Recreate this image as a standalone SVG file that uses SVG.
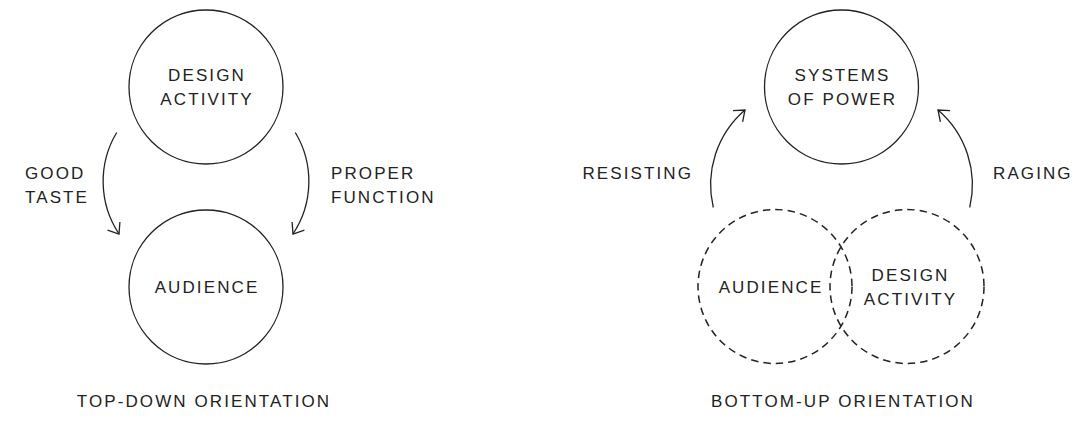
<svg xmlns="http://www.w3.org/2000/svg" width="1090" height="435" viewBox="0 0 1090 435">
<style>
.n{fill:none;stroke:#222;stroke-width:1.3}
.d{fill:none;stroke:#222;stroke-width:1.5;stroke-dasharray:7.5 5}
.c{fill:none;stroke:#222;stroke-width:1.3}
text{font-family:"Liberation Sans",Arial,sans-serif;font-size:17px;fill:#222;letter-spacing:2.1px}
.m{text-anchor:middle}
.e{text-anchor:end}
</style>
<defs>
<marker id="ah" markerUnits="userSpaceOnUse" markerWidth="20" markerHeight="20" refX="0" refY="0" viewBox="-14 -10 16 20" orient="auto" overflow="visible">
<path d="M-9.5,-7.4 L0,0 L-9.5,7.4" fill="none" stroke="#222" stroke-width="1.3"/>
</marker>
</defs>
<rect width="1090" height="435" fill="#fff"/>
<g id="design-activity-top">
<circle class="n" cx="206" cy="87" r="77"/>
<text class="m" x="207" y="81">DESIGN</text>
<text class="m" x="207" y="105">ACTIVITY</text>
</g>
<g id="audience-top">
<circle class="n" cx="206" cy="287" r="77"/>
<text class="m" x="207" y="293">AUDIENCE</text>
</g>
<g id="systems-of-power">
<circle class="n" cx="841.5" cy="87" r="77"/>
<text class="m" x="842.5" y="81">SYSTEMS</text>
<text class="m" x="842.5" y="105">OF POWER</text>
</g>
<g id="audience-bottom">
<circle class="d" cx="775" cy="286.5" r="77"/>
<text class="m" x="771" y="293">AUDIENCE</text>
</g>
<g id="design-activity-bottom">
<circle class="d" cx="907" cy="286.5" r="77"/>
<text class="m" x="910.5" y="281">DESIGN</text>
<text class="m" x="910.5" y="305">ACTIVITY</text>
</g>
<g id="connectors">
<path class="c" d="M116.7,132.5 A95 95 0 0 0 119,234" marker-end="url(#ah)"/>
<path class="c" d="M295.3,132.5 A95 95 0 0 1 293,234" marker-end="url(#ah)"/>
<path class="c" d="M713.3,207.5 A98.5 98.5 0 0 1 745,110" marker-end="url(#ah)"/>
<path class="c" d="M969.7,207.5 A98.5 98.5 0 0 0 938,110" marker-end="url(#ah)"/>
</g>
<g id="labels">
<text x="25" y="179">GOOD</text>
<text x="25" y="203">TASTE</text>
<text x="331" y="179">PROPER</text>
<text x="331" y="203">FUNCTION</text>
<text class="e" x="693" y="179">RESISTING</text>
<text x="993" y="179">RAGING</text>
<text class="m" x="204" y="407">TOP-DOWN ORIENTATION</text>
<text class="m" x="843" y="407">BOTTOM-UP ORIENTATION</text>
</g>
</svg>
